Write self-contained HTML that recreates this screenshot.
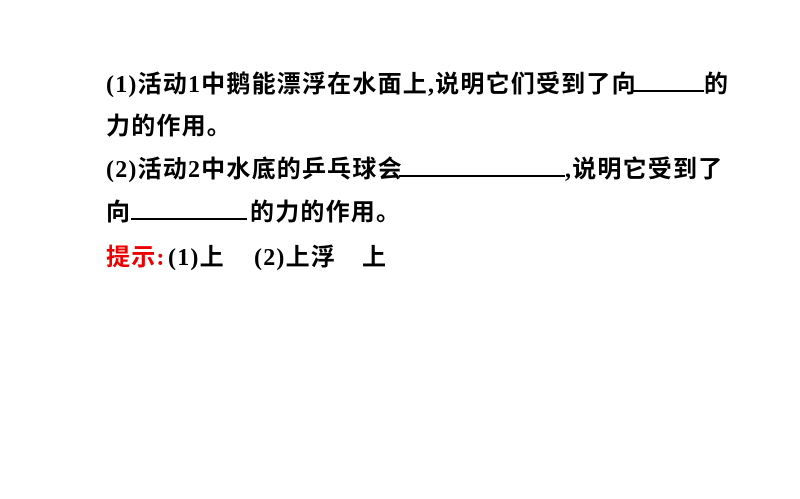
<!DOCTYPE html>
<html><head><meta charset="utf-8"><style>
html,body{margin:0;padding:0;background:#fff;}
body{width:800px;height:499px;position:relative;overflow:hidden;
font-family:"Liberation Serif","Noto Sans CJK SC",serif;font-size:24px;font-weight:bold;color:#000;}
.l{position:absolute;white-space:nowrap;line-height:30px;letter-spacing:1.2px;}
.u{display:inline-block;border-bottom:2px solid #000;height:20px;vertical-align:baseline;}
.r{color:#e00;}
</style></head><body>
<div class="l" style="left:106px;top:70px;">(1)活动1中鹅能漂浮在水面上,说明它们受到了向</div>
<div class="l" style="left:633px;top:70px;"><span class="u" style="width:71px"></span></div>
<div class="l" style="left:704px;top:70px;">的</div>
<div class="l" style="left:106px;top:112px;">力的作用。</div>
<div class="l" style="left:106px;top:155px;">(2)活动2中水底的乒乓球会</div>
<div class="l" style="left:399px;top:155px;"><span class="u" style="width:166px"></span></div>
<div class="l" style="left:565px;top:155px;">,说明它受到了</div>
<div class="l" style="left:106px;top:198px;">向</div>
<div class="l" style="left:131px;top:198px;"><span class="u" style="width:116px"></span></div>
<div class="l" style="left:250px;top:198px;">的力的作用。</div>
<div class="l r" style="left:106px;top:243px;">提示:</div>
<div class="l" style="left:168px;top:243px;">(1)上</div>
<div class="l" style="left:254px;top:243px;">(2)上浮</div>
<div class="l" style="left:362px;top:243px;">上</div>
</body></html>
